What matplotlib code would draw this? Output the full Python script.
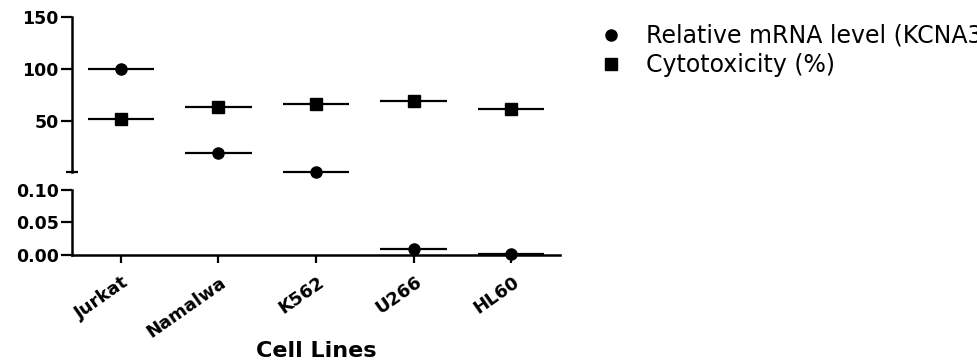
import matplotlib
matplotlib.use('Agg')
import matplotlib.pyplot as plt
import matplotlib.transforms as mtransforms
from matplotlib.lines import Line2D
import numpy as np

# Data
cell_lines = ['Jurkat', 'Namalwa', 'K562', 'U266', 'HL60']
mrna_level = [100, 18.9, 0.3, 0.009, 0.001]
cytotoxicity = [52.3, 63.6, 66.2, 69.2, 61.1]

BREAK = 0.10  # y-axis discontinuity between the two segments

plt.rcParams['font.family'] = 'DejaVu Sans'

fig = plt.figure(figsize=(9.77, 3.62), dpi=100)
ax_top = fig.add_axes([0.0737, 0.5235, 0.4995, 0.4282])
ax_bot = fig.add_axes([0.0737, 0.2956, 0.4995, 0.1796])

half = 0.34  # half width of the mean bar (category units)


def draw_series(values, marker, label):
    for i, v in enumerate(values):
        ax = ax_top if v > BREAK else ax_bot
        ax.plot([i - half, i + half], [v, v], color='black', lw=1.6,
                solid_capstyle='butt', clip_on=False, zorder=3)
        ax.plot(i, v, marker=marker, color='black', ms=8, ls='none',
                clip_on=False, zorder=4)
    return Line2D([], [], marker=marker, color='black', ms=8, ls='none', label=label)


h1 = draw_series(mrna_level, 'o', 'Relative mRNA level (KCNA3)')
h2 = draw_series(cytotoxicity, 's', 'Cytotoxicity (%)')

for ax in (ax_top, ax_bot):
    ax.set_xlim(-0.5, len(cell_lines) - 0.5)
    ax.spines['top'].set_visible(False)
    ax.spines['right'].set_visible(False)
    ax.spines['left'].set_linewidth(1.8)
    ax.spines['bottom'].set_linewidth(1.8)
    ax.tick_params(axis='y', which='major', length=8, width=1.6, pad=1.5)

# upper segment
ax_top.set_ylim(BREAK, 150)
ax_top.set_yticks([50, 100, 150])
ax_top.set_yticklabels(['50', '100', '150'], fontweight='bold', fontsize=12.5)
ax_top.set_yticks([BREAK], minor=True)
ax_top.tick_params(axis='y', which='minor', direction='inout', length=9, width=1.6)
ax_top.spines['bottom'].set_visible(False)
ax_top.tick_params(axis='x', bottom=False, labelbottom=False)

# lower segment
ax_bot.set_ylim(0, BREAK)
ax_bot.set_yticks([0, 0.05, 0.10])
ax_bot.set_yticklabels(['0.00', '0.05', '0.10'], fontweight='bold', fontsize=12.5)
ax_bot.set_yticks([BREAK], minor=True)
ax_bot.tick_params(axis='y', which='minor', direction='in', length=5, width=1.6)

ax_bot.set_xticks(np.arange(len(cell_lines)))
ax_bot.set_xticklabels(cell_lines, rotation=35, ha='right', va='top',
                       rotation_mode='anchor', fontweight='bold', fontsize=13)
ax_bot.tick_params(axis='x', length=6, width=1.6, pad=7)
shift = mtransforms.ScaledTranslation(1 / 100, 0, fig.dpi_scale_trans)
for lab in ax_bot.get_xticklabels():
    lab.set_transform(lab.get_transform() + shift)

ax_bot.set_xlabel('Cell Lines', fontweight='bold', fontsize=16)
ax_bot.xaxis.label.set_va('baseline')
ax_bot.xaxis.set_label_coords(0.5, -1.57)

fig.legend(handles=[h1, h2], loc='upper left',
           bbox_to_anchor=(601 / 977, 1 - 24 / 362), frameon=False,
           fontsize=17, borderpad=0, borderaxespad=0, handlelength=0.85,
           handletextpad=1.05, labelspacing=0.22)

fig.savefig('out.png', dpi=100)
